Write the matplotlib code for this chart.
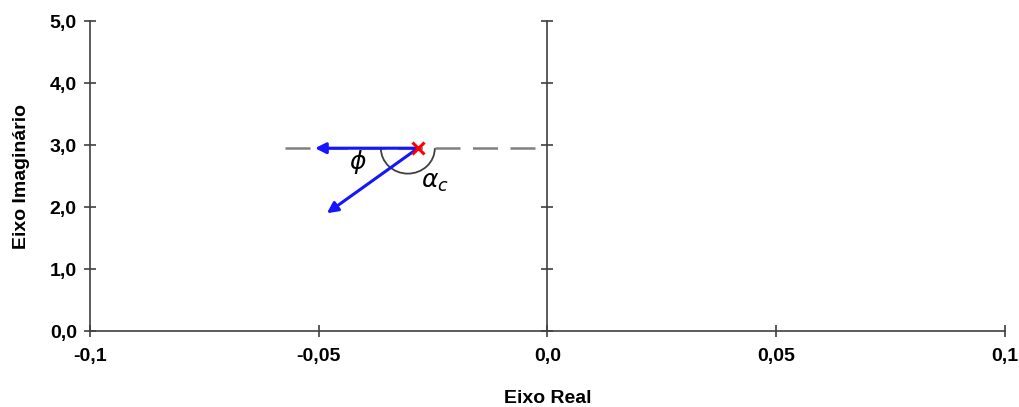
import matplotlib.pyplot as plt
from matplotlib.patches import Arc

# pole and arrow ends
pole = (-0.0283, 2.95)
arrow_tips_x = [-0.0508, -0.0482]
arrow_tips_y = [2.95, 1.90]
dash_x = [-0.0574, 0.0]
dash_y = [2.95, 2.95]
xticks = [-0.1, -0.05, 0.0, 0.05, 0.1]
xticklabels = ['-0,1', '-0,05', '0,0', '0,05', '0,1']
yticks = [0, 1, 2, 3, 4, 5]
yticklabels = ['0,0', '1,0', '2,0', '3,0', '4,0', '5,0']

plt.rcParams['font.family'] = ['Liberation Sans', 'DejaVu Sans']

fig = plt.figure(figsize=(10.2, 4.07), dpi=100)
ax = fig.add_axes([0.0882, 0.1867, 0.8968, 0.7613])
ax.set_xlim(-0.1, 0.1)
ax.set_ylim(0, 5)

axis_col = '#404040'
ax.spines['top'].set_visible(False)
ax.spines['right'].set_position(('data', 0))
for s in ['left', 'bottom', 'right']:
    ax.spines[s].set_color(axis_col)
    ax.spines[s].set_linewidth(1.2)

ax.set_xticks(xticks)
ax.set_xticklabels(xticklabels, fontweight='bold', fontsize=14)
ax.set_yticks(yticks)
ax.set_yticklabels(yticklabels, fontweight='bold', fontsize=14)
ax.yaxis.set_ticks_position('both')
ax.tick_params(axis='both', direction='inout', length=9, width=1.2, color=axis_col)
ax.tick_params(axis='x', pad=8)
ax.tick_params(axis='y', pad=5, labelright=False)

ax.set_xlabel('Eixo Real', fontweight='bold', fontsize=14, labelpad=18)
ax.set_ylabel('Eixo Imaginário', fontweight='bold', fontsize=14, labelpad=14)

# dashed reference line
ax.plot(dash_x, dash_y, color='#808080', lw=1.8, dashes=(10, 5), zorder=1)

# angle arc below the line
ax.add_patch(Arc((-0.0305, 2.95), 0.0118, 0.82, theta1=180, theta2=360,
                 color='#404040', lw=1.3, zorder=2))

for tx, ty in zip(arrow_tips_x, arrow_tips_y):
    ax.annotate('', xy=(tx, ty), xytext=pole,
                arrowprops=dict(arrowstyle='-|>', color='#1515ff', lw=2.2,
                                mutation_scale=16, shrinkA=0, shrinkB=0),
                zorder=3)

ax.plot(*pole, marker='x', color='red', ms=9, mew=2.2, zorder=4)

ax.text(-0.0414, 2.72, r'$\phi$', fontsize=18, ha='center', va='center')
ax.text(-0.0245, 2.40, r'$\alpha_c$', fontsize=18, ha='center', va='center')

fig.savefig('out.png', dpi=100)
